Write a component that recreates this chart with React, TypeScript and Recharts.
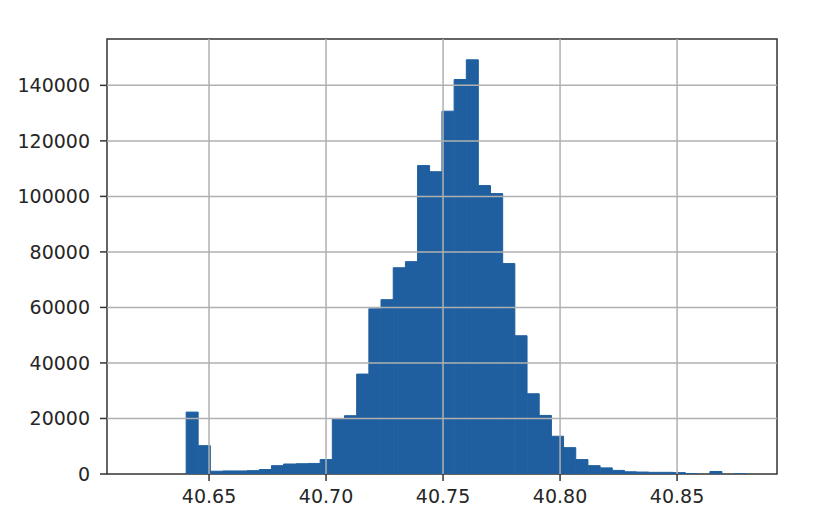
import React from "react";
import {
  ComposedChart,
  Bar,
  XAxis,
  YAxis,
  ReferenceLine,
  ReferenceArea,
} from "recharts";

// histogram bin centres (50 equal bins)
const binCenters = [
  40.622, 40.62721, 40.63241, 40.63762, 40.64282, 40.64803, 40.65323, 40.65844,
  40.66364, 40.66885, 40.67405, 40.67926, 40.68446, 40.68967, 40.69487, 40.70008,
  40.70528, 40.71049, 40.71569, 40.7209, 40.7261, 40.73131, 40.73651, 40.74172,
  40.74692, 40.75213, 40.75733, 40.76254, 40.76774, 40.77295, 40.77815, 40.78336,
  40.78856, 40.79377, 40.79897, 40.80418, 40.80938, 40.81459, 40.81979, 40.825,
  40.8302, 40.83541, 40.84061, 40.84582, 40.85102, 40.85623, 40.86143, 40.86664,
  40.87184, 40.87705,
];

const counts = [
  0, 0, 0, 0, 22300, 10200, 1000, 1100, 1100, 1200, 1600, 3000, 3600, 3700,
  3800, 5200, 19800, 21000, 36000, 59500, 62800, 74300, 76500, 111100, 108900,
  130700, 142100, 149200, 103900, 101000, 75800, 49800, 28900, 21100, 13600,
  9500, 5200, 3000, 2200, 1300, 800, 700, 600, 600, 500, 100, 0, 900, 0, 20,
];

const xTicks = [40.65, 40.7, 40.75, 40.8, 40.85];
const yTicks = [0, 20000, 40000, 60000, 80000, 100000, 120000, 140000];
const xRange = [40.6064, 40.8927];
const yRange = [0, 156700];

const data = binCenters.map((x, i) => ({ x, count: counts[i] }));

const frame = "#333333";
const barColor = "#1f5f9f";
const gridColor = "#b0b0b0";
const tickStyle = { fill: "#262626", fontSize: 19, fontFamily: "DejaVu Sans" };

export default function App() {
  return (
    <ComposedChart
      width={820}
      height={516}
      data={data}
      barCategoryGap={0}
      barGap={0}
      margin={{ top: 31, right: 51, left: 0, bottom: 0 }}
    >
      <XAxis
        dataKey="x"
        type="number"
        domain={xRange}
        allowDataOverflow
        ticks={xTicks}
        tickFormatter={(v: number) => v.toFixed(2)}
        height={50}
        tick={tickStyle}
        tickSize={7}
        tickMargin={9}
        axisLine={false}
        tickLine={{ stroke: frame, strokeWidth: 1.5 }}
      />
      <YAxis
        type="number"
        domain={yRange}
        allowDataOverflow
        ticks={yTicks}
        width={99}
        tick={tickStyle}
        tickSize={7}
        tickMargin={10}
        axisLine={false}
        tickLine={{ stroke: frame, strokeWidth: 1.5 }}
      />
      <Bar
        dataKey="count"
        fill={barColor}
        stroke={barColor}
        strokeWidth={1}
        isAnimationActive={false}
      />
      {xTicks.map((t) => (
        <ReferenceLine key={"x" + t} x={t} stroke={gridColor} strokeWidth={1.5} />
      ))}
      {yTicks.slice(1).map((t) => (
        <ReferenceLine key={"y" + t} y={t} stroke={gridColor} strokeWidth={1.5} />
      ))}
      <ReferenceArea
        x1={xRange[0]}
        x2={xRange[1]}
        y1={yRange[0]}
        y2={yRange[1]}
        fill="none"
        fillOpacity={0}
        stroke={frame}
        strokeWidth={1.5}
        strokeOpacity={1}
      />
    </ComposedChart>
  );
}
